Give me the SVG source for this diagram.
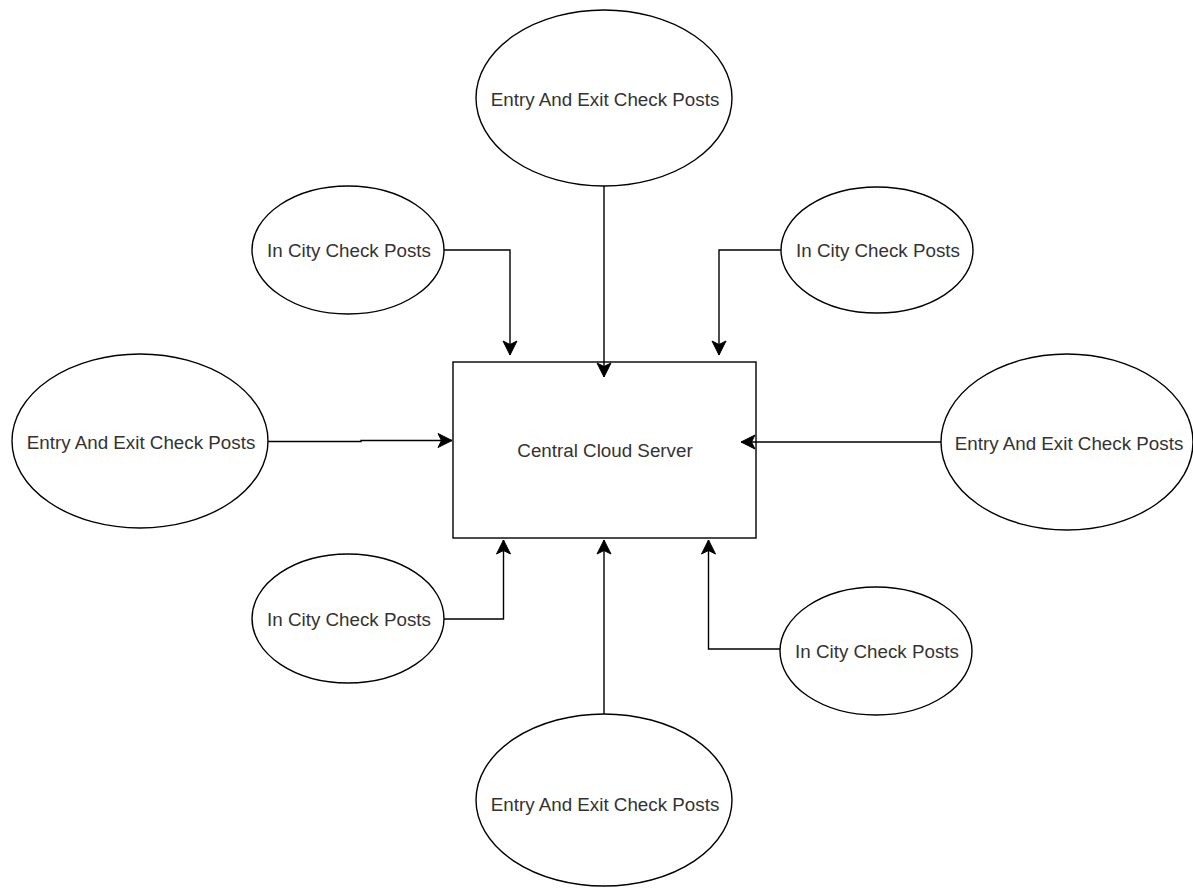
<svg xmlns="http://www.w3.org/2000/svg" width="1193" height="890" viewBox="0 0 1193 890">
<style>
.shape{fill:#fff;stroke:#000;stroke-width:1.4}
.edge{fill:none;stroke:#000;stroke-width:1.4}
.lbl{font-family:"Liberation Sans",Arial,sans-serif;font-size:18.8px;fill:#333;text-anchor:middle}
</style>
<defs>
<marker id="arr" viewBox="-16 -9 18 18" markerWidth="18" markerHeight="18" refX="0" refY="0" orient="auto" markerUnits="userSpaceOnUse">
<path d="M0,0 L-14,-7 L-10.5,0 L-14,7 Z" fill="#000" stroke="#000" stroke-width="1"/>
</marker>
</defs>
<rect width="1193" height="890" fill="#fff"/>
<g id="connectors">
<path class="edge" d="M604,186 V377" marker-end="url(#arr)"/>
<path class="edge" d="M444,250 H510 V355" marker-end="url(#arr)"/>
<path class="edge" d="M781,250 H719 V355" marker-end="url(#arr)"/>
<path class="edge" d="M268,441.5 H361 V440.5 H452" marker-end="url(#arr)"/>
<path class="edge" d="M941,442 H741" marker-end="url(#arr)"/>
<path class="edge" d="M444,619 H503.5 V540" marker-end="url(#arr)"/>
<path class="edge" d="M604,714 V540" marker-end="url(#arr)"/>
<path class="edge" d="M780,649 H708.5 V540" marker-end="url(#arr)"/>
</g>
<g id="server">
<rect class="shape" x="453" y="362" width="303" height="176" fill-opacity="0"/>
<text class="lbl" x="605" y="457">Central Cloud Server</text>
</g>
<g id="entry-top">
<ellipse class="shape" cx="604" cy="98" rx="128" ry="88"/>
<text class="lbl" x="605" y="106">Entry And Exit Check Posts</text>
</g>
<g id="entry-left">
<ellipse class="shape" cx="140" cy="441" rx="128" ry="87"/>
<text class="lbl" x="141" y="449">Entry And Exit Check Posts</text>
</g>
<g id="entry-right">
<ellipse class="shape" cx="1067" cy="442" rx="126" ry="88"/>
<text class="lbl" x="1069" y="450">Entry And Exit Check Posts</text>
</g>
<g id="entry-bottom">
<ellipse class="shape" cx="604" cy="800" rx="128" ry="86"/>
<text class="lbl" x="605" y="811">Entry And Exit Check Posts</text>
</g>
<g id="city-top-left">
<ellipse class="shape" cx="348" cy="250" rx="96" ry="64"/>
<text class="lbl" x="349" y="257">In City Check Posts</text>
</g>
<g id="city-top-right">
<ellipse class="shape" cx="877" cy="250" rx="96" ry="63"/>
<text class="lbl" x="878" y="257">In City Check Posts</text>
</g>
<g id="city-bottom-left">
<ellipse class="shape" cx="348" cy="618.5" rx="96" ry="64.5"/>
<text class="lbl" x="349" y="626">In City Check Posts</text>
</g>
<g id="city-bottom-right">
<ellipse class="shape" cx="876" cy="651" rx="96" ry="64"/>
<text class="lbl" x="877" y="658">In City Check Posts</text>
</g>
</svg>
